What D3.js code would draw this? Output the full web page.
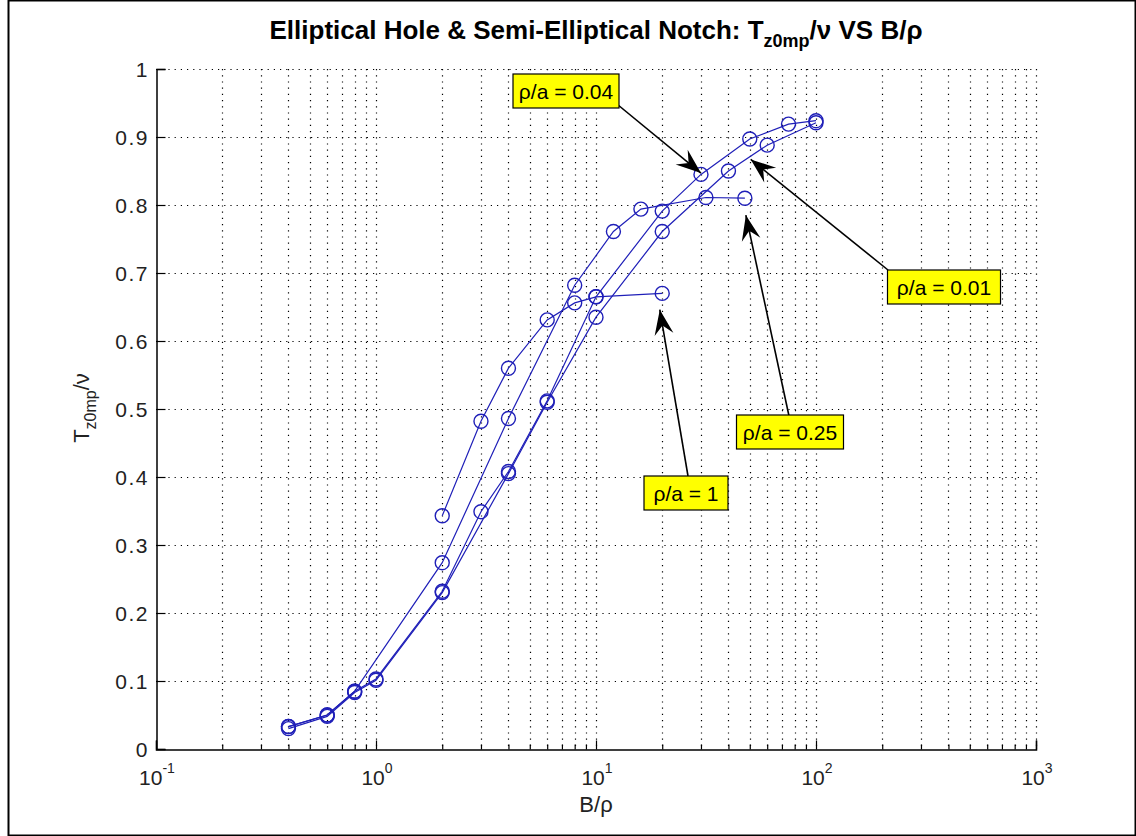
<!DOCTYPE html>
<html>
<head>
<meta charset="utf-8">
<script src="https://cdn.jsdelivr.net/npm/d3@7"></script>
<style>
  body { margin: 0; background: #fff; }
  svg { display: block; font-family: "Liberation Sans", Arial, sans-serif; }
</style>
</head>
<body>
<svg id="chart" width="1136" height="836"></svg>
<script>
// B/rho values and normalised T_z0mp/nu values, one pair of arrays per rho/a curve
const bRhoA1   = [2, 3, 4, 6, 8, 10, 20];
const tzA1     = [0.343, 0.482, 0.560, 0.631, 0.656, 0.665, 0.670];

const bRhoA025 = [0.4, 0.6, 0.8, 2, 4, 8, 12, 16, 31.6, 47.5];
const tzA025   = [0.033, 0.050, 0.085, 0.274, 0.486, 0.682, 0.761, 0.794, 0.811, 0.810];

const bRhoA004 = [0.4, 0.6, 0.8, 1, 2, 3, 4, 6, 10, 20, 30, 50, 75, 100];
const tzA004   = [0.033, 0.050, 0.085, 0.103, 0.232, 0.349, 0.408, 0.512, 0.665, 0.791, 0.845, 0.897, 0.919, 0.924];

const bRhoA001 = [0.4, 0.6, 0.8, 1, 2, 4, 6, 10, 20, 40, 60, 100];
const tzA001   = [0.030, 0.048, 0.083, 0.101, 0.230, 0.405, 0.510, 0.635, 0.761, 0.850, 0.888, 0.921];

const curveLabels = ["\u03c1/a = 1", "\u03c1/a = 0.25", "\u03c1/a = 0.04", "\u03c1/a = 0.01"];

// where each annotation arrow points (x, y in data units)
const arrowTargets = [[19.5, 0.646], [48, 0.785], [30, 0.847], [50.5, 0.867]];

const yTickValues = [0, 0.1, 0.2, 0.3, 0.4, 0.5, 0.6, 0.7, 0.8, 0.9, 1];
const xDecades = [0.1, 1, 10, 100, 1000];
const xExponents = ["-1", "0", "1", "2", "3"];

const curves = [
  { x: bRhoA1, y: tzA1 },
  { x: bRhoA025, y: tzA025 },
  { x: bRhoA004, y: tzA004 },
  { x: bRhoA001, y: tzA001 }
];

const svg = d3.select("#chart");
const W = 1136, H = 836;
const plotL = 156, plotR = 1036, plotT = 69, plotB = 749;

const x = d3.scaleLog().domain([0.1, 1000]).range([plotL, plotR]);
const y = d3.scaleLinear().domain([0, 1]).range([plotB, plotT]);

svg.append("rect").attr("width", W).attr("height", H).attr("fill", "#fff");

// figure frame
svg.append("rect")
  .attr("x", 8.5).attr("y", 0.5).attr("width", W - 9).attr("height", H - 1)
  .attr("fill", "none").attr("stroke", "#000").attr("stroke-width", 2);

// minor x positions (2..9 in every decade)
const xMinor = [];
for (let d = 0; d < 4; d++) {
  for (let k = 2; k <= 9; k++) xMinor.push(xDecades[d] * k);
}

const grid = svg.append("g").attr("stroke", "#000").attr("stroke-width", 1.2)
  .attr("stroke-dasharray", "1.2,5").attr("fill", "none");

xMinor.concat(xDecades.slice(1)).forEach(v => {
  const px = Math.round(x(v)) + 0.5;
  grid.append("line").attr("x1", px).attr("x2", px).attr("y1", plotT).attr("y2", plotB);
});
yTickValues.slice(1).forEach(v => {
  const py = Math.round(y(v)) + 0.5;
  grid.append("line").attr("x1", plotL).attr("x2", plotR).attr("y1", py).attr("y2", py);
});

// axes with inward ticks
const xAxisMajor = d3.axisBottom(x).tickValues(xDecades).tickSize(-9).tickFormat("");
const xAxisMinor = d3.axisBottom(x).tickValues(xMinor).tickSize(-5).tickFormat("");
svg.append("g").attr("transform", `translate(0,${plotB + 0.5})`).call(xAxisMajor);
svg.append("g").attr("transform", `translate(0,${plotB + 0.5})`).call(xAxisMinor)
  .call(g => g.select(".domain").remove());

const yAxis = d3.axisLeft(y).tickValues(yTickValues).tickSize(-9).tickFormat("");
svg.append("g").attr("transform", `translate(${plotL + 0.5},0)`).call(yAxis);

svg.selectAll(".domain").attr("stroke", "#000").attr("stroke-width", 1.5);
svg.selectAll(".tick line").attr("stroke", "#000").attr("stroke-width", 1.2);

// tick labels
const yLab = svg.append("g").attr("font-size", 21).attr("fill", "#222")
  .attr("text-anchor", "end").attr("letter-spacing", 1.5);
yTickValues.forEach(v => {
  yLab.append("text").attr("x", plotL - 7).attr("y", y(v) + 7.5).text(d3.format("~g")(v));
});

const xLab = svg.append("g").attr("font-size", 21).attr("fill", "#222");
xDecades.forEach((v, i) => {
  const t = xLab.append("text").attr("x", x(v) + 1).attr("y", 785).attr("text-anchor", "middle");
  t.append("tspan").text("10");
  t.append("tspan").attr("dy", -12).attr("font-size", 14).text(xExponents[i]);
});

// curves
const line = d3.line().x(d => x(d[0])).y(d => y(d[1]));
const blue = "#1f1fb8";
curves.forEach(c => {
  const pts = c.x.map((v, i) => [v, c.y[i]]);
  svg.append("path").datum(pts).attr("d", line)
    .attr("fill", "none").attr("stroke", blue).attr("stroke-width", 1.2);
  svg.append("g").selectAll("circle").data(pts).join("circle")
    .attr("cx", d => x(d[0])).attr("cy", d => y(d[1])).attr("r", 7)
    .attr("fill", "none").attr("stroke", blue).attr("stroke-width", 1.4);
});

// annotation boxes with arrows
const boxes = [
  { cx: 686, cy: 493, w: 84, tail: [688, 476] },
  { cx: 790, cy: 432, w: 107, tail: [789, 416] },
  { cx: 566, cy: 91, w: 106, tail: [612, 100] },
  { cx: 944, cy: 287, w: 113, tail: [888, 270] }
];

function arrowHead(tail, tip) {
  const dx = tip[0] - tail[0], dy = tip[1] - tail[1];
  const len = Math.hypot(dx, dy);
  const ux = dx / len, uy = dy / len, nx = -uy, ny = ux;
  const L = 25, Wd = 9.5, notch = 9;
  const bx = tip[0] - L * ux, by = tip[1] - L * uy;
  return [
    [tip[0], tip[1]],
    [bx + Wd * nx, by + Wd * ny],
    [tip[0] - (L - notch) * ux, tip[1] - (L - notch) * uy],
    [bx - Wd * nx, by - Wd * ny]
  ];
}

const ann = svg.append("g");
boxes.forEach((b, i) => {
  const tip = [x(arrowTargets[i][0]), y(arrowTargets[i][1])];
  ann.append("line").attr("x1", b.tail[0]).attr("y1", b.tail[1])
    .attr("x2", tip[0]).attr("y2", tip[1])
    .attr("stroke", "#000").attr("stroke-width", 1.6);
  ann.append("path").attr("d", d3.line()(arrowHead(b.tail, tip)) + "Z").attr("fill", "#000");
  ann.append("rect").attr("x", b.cx - b.w / 2).attr("y", b.cy - 17).attr("width", b.w).attr("height", 34)
    .attr("fill", "#ffff00").attr("stroke", "#000").attr("stroke-width", 1.2);
  ann.append("text").attr("x", b.cx).attr("y", b.cy + 7.5).attr("text-anchor", "middle")
    .attr("font-size", 21).attr("fill", "#000").text(curveLabels[i]);
});

// title
const title = svg.append("text").attr("x", 596).attr("y", 39).attr("text-anchor", "middle")
  .attr("font-size", 26).attr("font-weight", "bold").attr("fill", "#000");
title.append("tspan").text("Elliptical Hole & Semi-Elliptical Notch: T");
title.append("tspan").attr("dy", 8).attr("font-size", 18).text("z0mp");
title.append("tspan").attr("dy", -8).text("/\u03bd VS B/\u03c1");

// axis titles
svg.append("text").attr("x", 596).attr("y", 812).attr("text-anchor", "middle")
  .attr("font-size", 22).attr("fill", "#222").text("B/\u03c1");

const yt = svg.append("text").attr("transform", "translate(89,408) rotate(-90)")
  .attr("text-anchor", "middle").attr("font-size", 22).attr("fill", "#222");
yt.append("tspan").text("T");
yt.append("tspan").attr("dy", 7).attr("font-size", 16).text("z0mp");
yt.append("tspan").attr("dy", -7).text("/\u03bd");
</script>
</body>
</html>
